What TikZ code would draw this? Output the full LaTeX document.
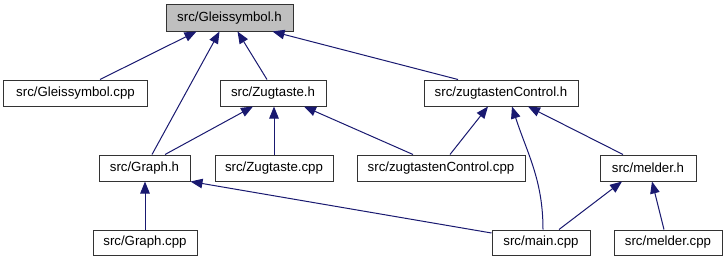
\documentclass[tikz,border=0pt]{standalone}
\usepackage{fontspec}
\setmainfont{Liberation Sans}
\usepackage{xcolor}
\usetikzlibrary{positioning,arrows.meta}

\definecolor{edgeblue}{RGB}{25,25,112}
\definecolor{rootgray}{RGB}{191,191,191}

\tikzset{
  file/.style={draw=black!80,fill=white,line width=1bp,inner sep=0pt,
    minimum height=26bp,font=\fontsize{13.3}{15}\selectfont},
  root/.style={file,fill=rootgray},
  dep/.style={draw=edgeblue,line width=1bp,
    -{Triangle[length=12bp,width=9.5bp]},edgeblue}
}

\begin{document}
\begin{tikzpicture}[x=1bp,y=1bp]
    \useasboundingbox (0,0) rectangle (727,261);
    % headers and sources
    \node[root,minimum width=127bp] (gsh) at (229.5,243) {src/Gleissymbol.h};
    \node[file,minimum width=143bp] (gscpp) at (75.5,168) {src/Gleissymbol.cpp};
    \node[file,minimum width=106bp] (zth) at (273,168) {src/Zugtaste.h};
    \node[file,minimum width=154bp] (zch) at (501,168) {src/zugtastenControl.h};
    \node[file,minimum width=91bp] (graphh) at (144.5,93) {src/Graph.h};
    \node[file,minimum width=118bp] (ztcpp) at (274,93) {src/Zugtaste.cpp};
    \node[file,minimum width=168bp] (zccpp) at (441,93) {src/zugtastenControl.cpp};
    \node[file,minimum width=96bp] (melderh) at (648,93) {src/melder.h};
    \node[file,minimum width=104bp,minimum height=25bp] (graphcpp) at (145,18.5) {src/Graph.cpp};
    \node[file,minimum width=98bp,minimum height=25bp] (maincpp) at (541,18.5) {src/main.cpp};
    \node[file,minimum width=108bp,minimum height=25bp] (meldercpp) at (668,18.5) {src/melder.cpp};

    % includes
    \draw[dep] ([xshift=24.5bp]gscpp.north) -- ([xshift=-33bp]gsh.south);
    \draw[dep] ([xshift=7.5bp]graphh.north) -- ([xshift=-10bp]gsh.south);
    \draw[dep] ([xshift=-6bp]zth.north) -- ([xshift=8bp]gsh.south);
    \draw[dep] ([xshift=-43bp]zch.north) -- ([xshift=43bp]gsh.south);
    \draw[dep] ([xshift=20.5bp]graphh.north) -- ([xshift=-20bp]zth.south);
    \draw[dep] (ztcpp.north) -- (ztcpp.north |- zth.south);
    \draw[dep] ([xshift=-28bp]zccpp.north) -- ([xshift=31bp]zth.south);
    \draw[dep] ([xshift=9bp]zccpp.north) -- ([xshift=-13bp]zch.south);
    \draw[dep] ([xshift=2bp]maincpp.north) to[out=90,in=-72] ([xshift=11bp]zch.south);
    \draw[dep] ([xshift=-25bp]melderh.north) -- ([xshift=27bp]zch.south);
    \draw[dep] ([yshift=9.5bp]maincpp.west) -- (graphh.south east);
    \draw[dep] ([xshift=18bp]maincpp.north) -- ([xshift=-26bp]melderh.south);
    \draw[dep] ([xshift=-4bp]meldercpp.north) -- ([xshift=4bp]melderh.south);
    \draw[dep] (graphcpp.north) -- (graphcpp.north |- graphh.south);
\end{tikzpicture}
\end{document}
